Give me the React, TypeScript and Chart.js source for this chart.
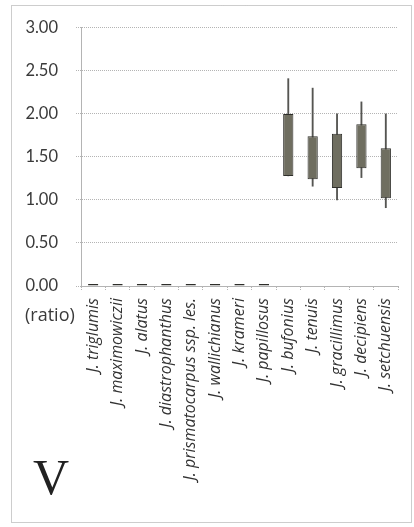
import React, { useEffect, useRef } from "react";
import { Chart, registerables } from "chart.js";

Chart.register(...registerables);

const species = [
  "J. triglumis",
  "J. maximowiczii",
  "J. alatus",
  "J. diastrophanthus",
  "J. prismatocarpus ssp. les.",
  "J. wallichianus",
  "J. krameri",
  "J. papillosus",
  "J. bufonius",
  "J. tenuis",
  "J. gracillimus",
  "J. decipiens",
  "J. setchuensis",
];

const whiskerMin = [0, 0, 0, 0, 0, 0, 0, 0, 1.28, 1.16, 1.0, 1.26, 0.91];
const boxLow = [0, 0, 0, 0, 0, 0, 0, 0, 1.28, 1.24, 1.14, 1.37, 1.02];
const boxHigh = [0, 0, 0, 0, 0, 0, 0, 0, 2.0, 1.74, 1.77, 1.88, 1.6];
const whiskerMax = [0, 0, 0, 0, 0, 0, 0, 0, 2.41, 2.3, 2.0, 2.14, 2.0];

const yTicks = [0, 0.5, 1.0, 1.5, 2.0, 2.5, 3.0];
const unitLabel = "(ratio)";
const panelLetter = "V";

const GRID = "#b4b4b4";

const decorPlugin = {
  id: "decor",
  afterDraw(chart: any) {
    const ctx = chart.ctx;
    const area = chart.chartArea;
    ctx.save();
    // panel frame
    ctx.strokeStyle = "#9a9a9a";
    ctx.lineWidth = 1;
    ctx.setLineDash([1, 1]);
    ctx.strokeRect(11.5, 5.5, 400, 517);
    ctx.setLineDash([]);
    // unit label
    ctx.fillStyle = "#3a3a3a";
    ctx.font = "18px 'Open Sans', Lato, sans-serif";
    ctx.textAlign = "left";
    ctx.textBaseline = "middle";
    ctx.fillText(unitLabel, 25, area.bottom + 30);
    // panel letter
    ctx.fillStyle = "#222";
    ctx.font = "50px 'Liberation Serif', 'DejaVu Serif', serif";
    ctx.textBaseline = "alphabetic";
    ctx.fillText(panelLetter, 33, 494);
    ctx.restore();
  },
};

export default function App() {
  const ref = useRef<HTMLCanvasElement>(null);
  useEffect(() => {
    document.body.style.margin = "0";
    const canvas = ref.current!;
    const chart = new Chart(canvas, {
      type: "bar",
      data: {
        labels: species,
        datasets: [
          {
            label: "box",
            data: species.map((_, i) => [boxLow[i], boxHigh[i]]) as any,
            backgroundColor: "#6f6e60",
            borderColor: "#2e2e2a",
            borderWidth: 1,
            borderSkipped: false,
            barPercentage: 0.42,
            categoryPercentage: 1,
            minBarLength: 2,
            grouped: false,
          } as any,
          {
            label: "whisker",
            data: species.map((_, i) =>
              whiskerMax[i] > whiskerMin[i] ? [whiskerMin[i], whiskerMax[i]] : null
            ) as any,
            backgroundColor: "#555552",
            borderWidth: 0,
            barThickness: 1.2,
            grouped: false,
          } as any,
        ],
      },
      options: {
        animation: false,
        responsive: false,
        maintainAspectRatio: false,
        layout: { padding: { left: 0, right: 16, top: 25, bottom: 0 } },
        plugins: { legend: { display: false }, tooltip: { enabled: false } },
        scales: {
          x: {
            offset: true,
            afterFit: (s: any) => {
              s.height = 241;
            },
            grid: {
              drawOnChartArea: false,
              offset: true,
              color: GRID,
              tickLength: 5,
              tickBorderDash: [1, 1],
            } as any,
            border: { display: true, color: GRID, dash: [1, 1] },
            ticks: {
              autoSkip: false,
              maxRotation: 90,
              minRotation: 90,
              padding: 7,
              color: "#333",
              font: { family: "'Open Sans', Lato, sans-serif", size: 16, style: "italic" },
            },
          },
          y: {
            min: 0,
            max: 3,
            afterFit: (s: any) => {
              s.width = 81;
            },
            afterBuildTicks: (s: any) => {
              s.ticks = yTicks.map((v) => ({ value: v }));
            },
            grid: {
              color: GRID,
              tickLength: 5,
              tickBorderDash: [1, 1],
            } as any,
            border: { display: true, color: GRID, dash: [1, 1] },
            ticks: {
              padding: 18,
              color: "#3a3a3a",
              font: { family: "Lato, 'Open Sans', sans-serif", size: 16.5 },
              callback: (v: any) => Number(v).toFixed(2),
            },
          },
        },
      },
      plugins: [decorPlugin],
    });
    return () => chart.destroy();
  }, []);
  return (
    <div style={{ width: 414, height: 527, position: "relative", background: "#fff" }}>
      <canvas ref={ref} width={414} height={527} style={{ display: "block" }} />
    </div>
  );
}
